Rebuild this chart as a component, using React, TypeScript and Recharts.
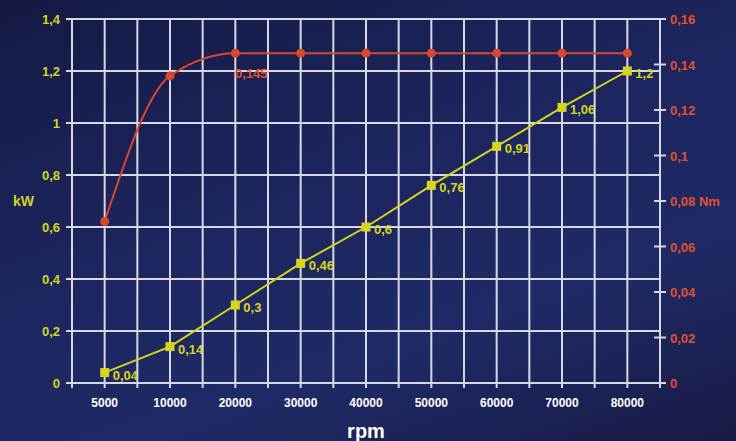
import React from 'react';
import { LineChart, Line, XAxis, YAxis, CartesianGrid, LabelList } from 'recharts';

const categories = ['5000', '10000', '20000', '30000', '40000', '50000', '60000', '70000', '80000'];
const powerKW = [0.04, 0.14, 0.3, 0.46, 0.6, 0.76, 0.91, 1.06, 1.2];
const torqueNm = [0.071, 0.135, 0.145, 0.145, 0.145, 0.145, 0.145, 0.145, 0.145];
const leftTicks = [0, 0.2, 0.4, 0.6, 0.8, 1, 1.2, 1.4];
const rightTicks = [0, 0.02, 0.04, 0.06, 0.08, 0.1, 0.12, 0.14, 0.16];

const data = categories.map((c, i) => ({ idx: i, rpm: c, kw: powerKW[i], nm: torqueNm[i] }));
const xTicks: number[] = [];
for (let i = -0.5; i <= categories.length - 0.5 + 1e-9; i += 0.5) xTicks.push(Math.round(i * 2) / 2);

const fmt = (v: number) => String(v).replace('.', ',');

const YELLOW = '#d8d41c';
const RED = '#d8482a';
const RED_TEXT = '#e0522c';
const GRID = '#d6d8e6';
const FONT = '"Liberation Sans", Arial, sans-serif';

const SquareDot = (props: any) => {
  const { cx, cy } = props;
  if (cx == null || cy == null) return null;
  return <rect x={cx - 4.5} y={cy - 4.5} width={9} height={9} fill={YELLOW} />;
};
const RoundDot = (props: any) => {
  const { cx, cy } = props;
  if (cx == null || cy == null) return null;
  return <circle cx={cx} cy={cy} r={4.5} fill={RED} />;
};

const RightTick = (props: any) => {
  const { x, y, payload } = props;
  const v = payload.value;
  const label = fmt(v) + (Math.abs(v - 0.08) < 1e-9 ? ' Nm' : '');
  return (
    <g>
      <line x1={x - 6} x2={x + 6} y1={y} y2={y} stroke={GRID} strokeWidth={2} />
      <text x={x + 10} y={y + 5} fill={RED_TEXT} fontSize={13} fontWeight="bold" fontFamily={FONT}>
        {label}
      </text>
    </g>
  );
};

export default function App() {
  return (
    <div
      style={{
        position: 'fixed',
        left: 0,
        top: 0,
        width: 736,
        height: 441,
        background: 'linear-gradient(160deg, #151a44 0%, #1d2660 45%, #1f2a66 70%, #181a44 100%)',
      }}
    >
      <LineChart width={736} height={441} data={data} margin={{ top: 19, right: 16, bottom: 0, left: 12 }}>
        <CartesianGrid yAxisId="left" stroke={GRID} strokeWidth={2} />
        <XAxis
          dataKey="idx"
          type="number"
          domain={[-0.5, categories.length - 0.5]}
          ticks={xTicks}
          interval={0}
          height={58}
          tickSize={5}
          tickMargin={10}
          stroke={GRID}
          strokeWidth={2}
          tickFormatter={(v: number) => (Number.isInteger(v) ? categories[v] : '')}
          tick={{ fill: '#ffffff', fontSize: 12, fontWeight: 'bold', fontFamily: FONT }}
          label={{ value: 'rpm', position: 'insideBottom', offset: 3, fill: '#ffffff', fontSize: 20, fontWeight: 'bold', fontFamily: FONT }}
        />
        <YAxis
          yAxisId="left"
          orientation="left"
          width={60}
          domain={[0, 1.4]}
          ticks={leftTicks}
          interval={0}
          tickSize={6}
          tickMargin={6}
          stroke={GRID}
          strokeWidth={2}
          tickFormatter={fmt}
          tick={{ fill: YELLOW, fontSize: 13, fontWeight: 'bold', fontFamily: FONT }}
          label={{ value: 'kW', position: 'insideLeft', offset: 1, fill: YELLOW, fontSize: 14, fontWeight: 'bold', fontFamily: FONT }}
        />
        <YAxis
          yAxisId="right"
          orientation="right"
          width={60}
          domain={[0, 0.16]}
          ticks={rightTicks}
          interval={0}
          tickSize={0}
          tickMargin={0}
          tickLine={false}
          stroke={GRID}
          strokeWidth={2}
          tick={<RightTick />}
        />
        <Line
          yAxisId="right"
          dataKey="nm"
          type="monotone"
          stroke={RED}
          strokeWidth={2}
          dot={<RoundDot />}
          activeDot={false}
          isAnimationActive={false}
        >
          <LabelList
            dataKey="nm"
            content={(p: any) =>
              p.index === 2 ? (
                <text x={p.x + 16} y={p.y + 25} textAnchor="middle" fill={RED_TEXT} fontSize={13} fontWeight="bold" fontFamily={FONT}>
                  {fmt(p.value)}
                </text>
              ) : null
            }
          />
        </Line>
        <Line
          yAxisId="left"
          dataKey="kw"
          type="linear"
          stroke={YELLOW}
          strokeWidth={2}
          dot={<SquareDot />}
          activeDot={false}
          isAnimationActive={false}
        >
          <LabelList
            dataKey="kw"
            content={(p: any) => (
              <text x={p.x + 8} y={p.y + 7} fill={YELLOW} fontSize={13} fontWeight="bold" fontFamily={FONT}>
                {fmt(p.value)}
              </text>
            )}
          />
        </Line>
      </LineChart>
    </div>
  );
}
